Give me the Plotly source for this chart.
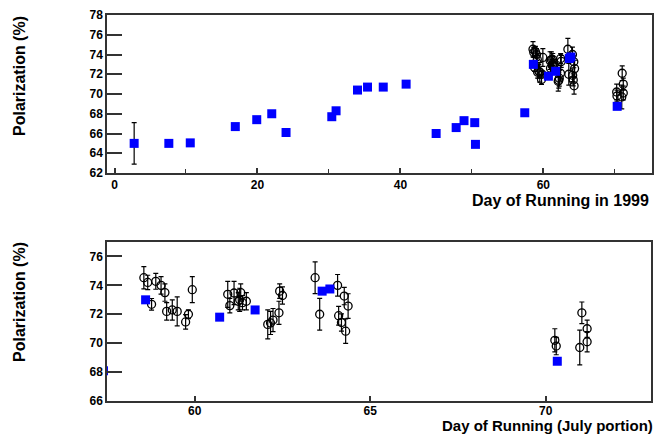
import plotly.graph_objects as go

# Blue squares: (day, polarization)
sq_day = [2.75, 7.6, 10.6, 16.9, 19.9, 22.0, 24.0, 30.4, 31.0, 34.0, 35.4, 37.6, 40.8,
          45.0, 47.8, 48.9, 50.4, 50.5, 57.4, 58.6, 60.71, 61.72, 63.63, 63.85, 70.33]
sq_pol = [65.0, 65.0, 65.05, 66.7, 67.4, 68.0, 66.1, 67.7, 68.3, 70.4, 70.7, 70.7, 71.0,
          66.0, 66.6, 67.3, 67.1, 64.9, 68.1, 73.0, 71.8, 72.3, 73.6, 73.75, 68.75]
sq_err = [2.1] + [0] * 24

# Open circles with error bars: (day, polarization, error)
c_day = [58.55, 58.66, 58.77, 58.89, 59.04, 59.15, 59.2, 59.36, 59.5, 59.74, 59.82, 59.93,
         60.94, 61.0, 61.12, 61.24, 61.28, 61.31, 61.36, 61.47,
         62.08, 62.16, 62.23, 62.4, 62.42, 62.5,
         63.43, 63.56, 64.07, 64.26, 64.37, 64.1, 64.18, 64.3,
         70.26, 70.3, 70.97, 71.03, 71.18, 71.18]
c_pol = [74.53, 74.2, 72.69, 74.28, 74.0, 73.5, 72.2, 72.3, 72.2, 71.47, 72.0, 73.7,
         73.38, 72.6, 73.47, 72.9, 73.0, 73.5, 72.8, 72.9,
         71.3, 71.4, 71.6, 72.1, 73.6, 73.3,
         74.53, 72.0, 74.0, 73.26, 72.57, 71.9, 71.43, 70.83,
         70.2, 69.8, 69.7, 72.1, 71.0, 70.1]
c_err = [0.77, 0.5, 0.4, 0.55, 0.6, 0.6, 0.6, 0.7, 1.0, 0.5, 0.3, 0.9,
         0.9, 0.5, 0.8, 0.6, 0.8, 0.6, 0.5, 0.6,
         1.0, 0.8, 0.8, 0.8, 0.5, 0.6,
         1.1, 1.1, 0.75, 0.6, 0.85, 0.65, 0.6, 0.85,
         0.8, 0.6, 1.2, 0.75, 0.6, 0.7]

W, H = 656, 435
FONT = "Liberation Sans, Arial, sans-serif"
AX = "#333333"
SQ = "#0000ff"

fig = go.Figure()
for xa, ya in (("x", "y"), ("x2", "y2")):
    fig.add_trace(go.Scatter(
        x=c_day, y=c_pol, mode="markers", xaxis=xa, yaxis=ya,
        marker=dict(symbol="circle-open", size=8, color="black", line=dict(width=1.3, color="black")),
        error_y=dict(type="data", array=c_err, visible=True, color="black", thickness=1.2, width=2.5),
        showlegend=False))
    fig.add_trace(go.Scatter(
        x=sq_day, y=sq_pol, mode="markers", xaxis=xa, yaxis=ya,
        marker=dict(symbol="square", size=9, color=SQ),
        error_y=dict(type="data", array=sq_err, visible=True, color="black", thickness=1.2, width=2.5),
        showlegend=False))

def px_x(p):
    return p / W

def px_y(p):
    return 1 - p / H

common_ax = dict(showline=True, mirror=True, linecolor=AX, linewidth=1.5, showgrid=False,
                 zeroline=False, automargin=False, tickcolor=AX,
                 tickfont=dict(family=FONT, size=12, color="black", weight="bold"))

fig.update_layout(
    width=W, height=H, margin=dict(l=0, r=0, t=0, b=0),
    paper_bgcolor="white", plot_bgcolor="white",
    font=dict(family=FONT, color="black"),
    xaxis=dict(domain=[px_x(107), px_x(652)], range=[-1.05, 75.2], anchor="y",
               tickvals=[0, 20, 40, 60], ticks="inside", ticklen=5, tickwidth=1.5,
               minor=dict(tickvals=[10, 30, 50, 70], ticks="inside", ticklen=4, tickcolor=AX, tickwidth=1.2),
               **common_ax),
    yaxis=dict(domain=[px_y(173), px_y(15)], range=[62, 78], anchor="x",
               tickvals=[62, 64, 66, 68, 70, 72, 74, 76, 78], ticks="inside", ticklen=15, tickwidth=1.5,
               **common_ax),
    xaxis2=dict(domain=[px_x(107), px_x(651)], range=[57.5, 73.0], anchor="y2",
                tickvals=[60, 65, 70], ticks="inside", ticklen=5, tickwidth=1.5,
                ticklabelstandoff=-2,
                **common_ax),
    yaxis2=dict(domain=[px_y(401), px_y(242)], range=[66, 77], anchor="x2",
                tickvals=[66, 68, 70, 72, 74, 76], ticks="inside", ticklen=15, tickwidth=1.5,
                **common_ax),
    annotations=[
        dict(text="Polarization (%)", textangle=-90, xref="paper", yref="paper",
             x=px_x(19), y=px_y(76), xanchor="center", yanchor="middle", showarrow=False,
             font=dict(family=FONT, size=16, color="black", weight="bold")),
        dict(text="Polarization (%)", textangle=-90, xref="paper", yref="paper",
             x=px_x(19), y=px_y(302), xanchor="center", yanchor="middle", showarrow=False,
             font=dict(family=FONT, size=16, color="black", weight="bold")),
        dict(text="Day of Running in 1999", xref="paper", yref="paper",
             x=px_x(651), y=px_y(200), xanchor="right", yanchor="middle", showarrow=False,
             font=dict(family=FONT, size=16, color="black", weight="bold")),
        dict(text="Day of Running (July portion)", xref="paper", yref="paper",
             x=px_x(655), y=px_y(436), xanchor="right", yanchor="bottom", showarrow=False,
             font=dict(family=FONT, size=15, color="black", weight="bold")),
    ],
)

fig.write_html("out.html")
